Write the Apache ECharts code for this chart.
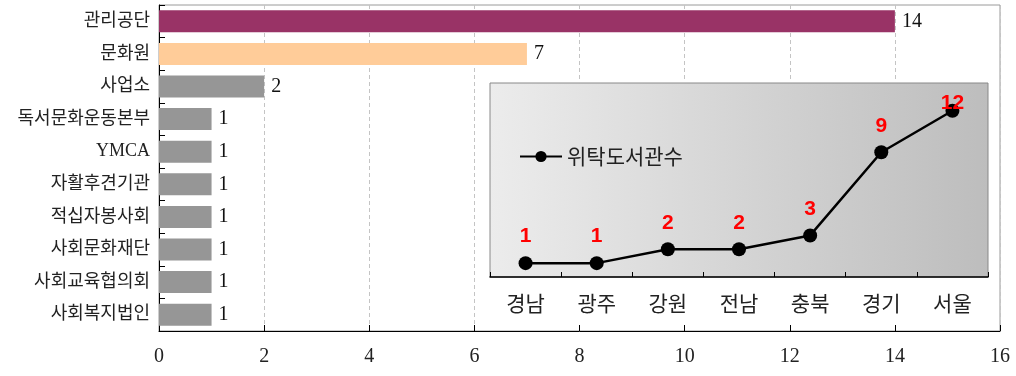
<!DOCTYPE html>
<html>
<head>
<meta charset="utf-8">
<script src="https://cdn.jsdelivr.net/npm/echarts@6/dist/echarts.min.js"></script>
<style>
  html, body { margin: 0; padding: 0; background: #fff; }
  #chart { width: 1016px; height: 376px; }
</style>
</head>
<body>
<div id="chart"></div>
<script>
// Institutions operating commissioned libraries (bar chart)
const orgNames = ['관리공단', '문화원', '사업소', '독서문화운동본부', 'YMCA', '자활후견기관', '적십자봉사회', '사회문화재단', '사회교육협의회', '사회복지법인'];
const orgCounts = [14, 7, 2, 1, 1, 1, 1, 1, 1, 1];
const orgColors = ['#993366', '#FFCC99', '#969696', '#969696', '#969696', '#969696', '#969696', '#969696', '#969696', '#969696'];
const countTicks = [0, 2, 4, 6, 8, 10, 12, 14, 16];

// Commissioned libraries by region (inset line chart)
const regions = ['경남', '광주', '강원', '전남', '충북', '경기', '서울'];
const regionCounts = [1, 1, 2, 2, 3, 9, 12];
const lineName = '위탁도서관수';

const serif = '"Liberation Serif", "Noto Sans CJK KR", serif';
const sans = '"Noto Sans CJK KR", "Liberation Sans", sans-serif';

const chart = echarts.init(document.getElementById('chart'), null, { renderer: 'canvas' });

const barData = orgCounts.map((v, i) => ({ value: v, itemStyle: { color: orgColors[i] } }));
const lineData = regionCounts.map((v, i) => i === regionCounts.length - 1
  ? { value: v, label: { distance: -10 } }
  : v);

chart.setOption({
  animation: false,
  backgroundColor: '#ffffff',
  graphic: [{
    type: 'rect',
    z: 1,
    shape: { x: 489, y: 82, width: 501, height: 242 },
    style: { fill: '#ffffff' },
    silent: true
  }],
  legend: {
    data: [lineName],
    left: 514,
    top: 141,
    z: 6,
    itemWidth: 42,
    itemHeight: 14,
    itemGap: 8,
    textStyle: { fontFamily: sans, fontSize: 21, color: '#222' }
  },
  grid: [
    { left: 159, top: 5, right: 16, bottom: 45, show: true, borderColor: '#9a9a9a', borderWidth: 1, backgroundColor: 'transparent' },
    {
      left: 490, top: 83, right: 28, bottom: 99, z: 3, show: true,
      borderColor: '#888', borderWidth: 1,
      backgroundColor: {
        type: 'linear', x: 0, y: 0, x2: 1, y2: 0,
        colorStops: [{ offset: 0, color: '#ECECEC' }, { offset: 1, color: '#BDBDBD' }]
      }
    }
  ],
  xAxis: [
    {
      gridIndex: 0,
      type: 'value',
      min: countTicks[0],
      max: countTicks[countTicks.length - 1],
      interval: 2,
      axisLine: { show: true, lineStyle: { color: '#000', width: 1 } },
      axisTick: { show: true, inside: true, length: 6, lineStyle: { color: '#000' } },
      splitLine: { show: true, lineStyle: { color: '#c4c4c4', type: [4, 3], width: 1 } },
      axisLabel: { fontFamily: serif, fontSize: 20, color: '#222', margin: 16 }
    },
    {
      gridIndex: 1,
      type: 'category',
      data: regions,
      boundaryGap: true,
      z: 4,
      axisLine: { show: true, lineStyle: { color: '#000', width: 1.5 } },
      axisTick: { show: true, inside: true, length: 5, lineStyle: { color: '#000' } },
      splitLine: { show: false },
      axisLabel: { fontFamily: sans, fontSize: 21, color: '#222', margin: 16 }
    }
  ],
  yAxis: [
    {
      gridIndex: 0,
      type: 'category',
      data: orgNames,
      inverse: true,
      axisLine: { show: true, lineStyle: { color: '#000', width: 1 } },
      axisTick: { show: true, inside: true, length: 6, lineStyle: { color: '#000' } },
      axisLabel: { fontFamily: serif, fontSize: 18, color: '#222', margin: 9 }
    },
    {
      gridIndex: 1,
      type: 'value',
      min: 0,
      max: 14,
      show: false,
      splitLine: { show: false }
    }
  ],
  series: [
    {
      type: 'bar',
      xAxisIndex: 0,
      yAxisIndex: 0,
      data: barData,
      barWidth: 22,
      label: { show: true, position: 'right', distance: 7, fontFamily: serif, fontSize: 20, color: '#111' }
    },
    {
      type: 'line',
      name: lineName,
      xAxisIndex: 1,
      yAxisIndex: 1,
      z: 5,
      data: lineData,
      symbol: 'circle',
      symbolSize: 14,
      itemStyle: { color: '#000' },
      lineStyle: { color: '#000', width: 2.5 },
      label: {
        show: true,
        position: 'top',
        distance: 9,
        fontFamily: '"Liberation Sans", Arial, sans-serif',
        fontWeight: 'bold',
        fontSize: 21,
        color: '#FF0000'
      }
    }
  ]
});
</script>
</body>
</html>
